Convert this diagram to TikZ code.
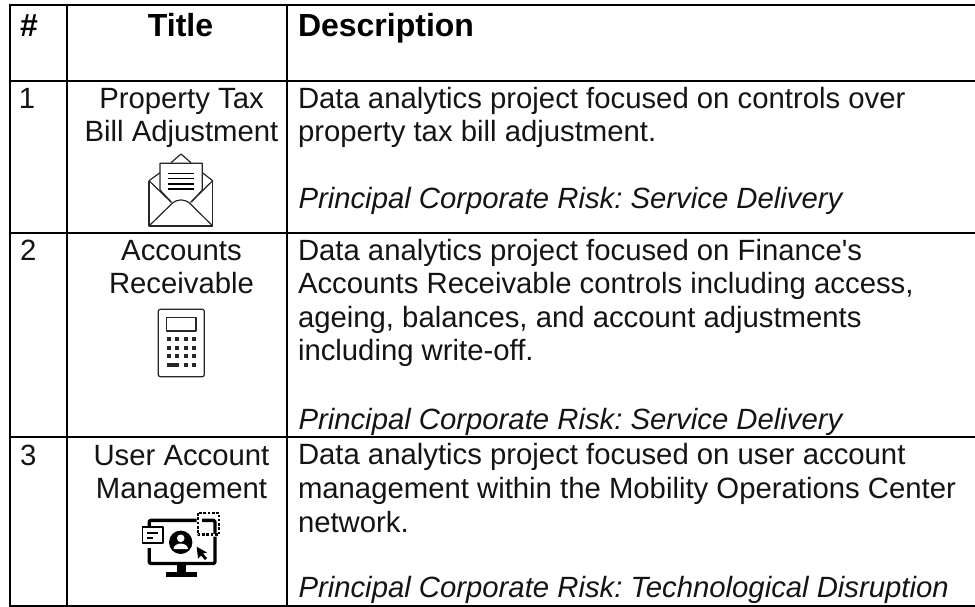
\documentclass[tikz,border=0pt]{standalone}
\usepackage{fontspec}
\setmainfont{Liberation Sans}
\newfontfamily\plainapos{Liberation Sans}
\tikzset{
  x=1pt,y=-1pt,
  grid/.style={line width=2pt,black},
  txt/.style={anchor=base west,inner sep=0pt,outer sep=0pt,font=\fontsize{29.3}{33}\selectfont,text=black!92},
  ctr/.style={anchor=base,inner sep=0pt,outer sep=0pt,font=\fontsize{29.3}{33}\selectfont,text=black!92},
  hd/.style={anchor=base,inner sep=0pt,outer sep=0pt,font=\fontsize{32}{36}\selectfont\bfseries,text=black},
  icon/.style={line width=1.2pt,black!85,line join=round},
}
\begin{document}
\frenchspacing
\begin{tikzpicture}
\useasboundingbox (0,0) rectangle (975,607);
\fill[white] (0,0) rectangle (975,607);
% grid
\draw[grid] (975,5) -- (9,5);
\draw[grid] (9,81) -- (975,81);
\draw[grid] (9,233) -- (975,233);
\draw[grid] (9,437) -- (975,437);
\draw[grid] (9,606.3) -- (975,606.3);
\draw[grid] (10,4) -- (10,607);
\draw[grid] (66.7,4) -- (66.7,607);
\draw[grid] (286.7,4) -- (286.7,607);
% header
\node[hd,anchor=base west] (h1) at (20,36.7) {\#};
\node[hd] (h2) at (180.5,36.7) {Title};
\node[hd,anchor=base west] (h3) at (298,36.7) {Description};
% row 1
\node[txt] (n1) at (19,108.3) {1};
\node[ctr] (t1a) at (181.5,108.3) {Property Tax};
\node[ctr] (t1b) at (181.5,141.7) {Bill Adjustment};
\node[txt] (d1a) at (298,108.3) {Data analytics project focused on controls over};
\node[txt] (d1b) at (298,141.7) {property tax bill adjustment.};
\node[txt] (d1c) at (298.5,208.5) {\itshape Principal Corporate Risk: Service Delivery};
% row 2
\node[txt] (n2) at (20,260) {2};
\node[ctr] (t2a) at (181.5,260) {Accounts};
\node[ctr] (t2b) at (181.5,293.5) {Receivable};
\node[txt] (d2a) at (298,260) {Data analytics project focused on Finance{\plainapos '}s};
\node[txt] (d2b) at (298,293.5) {Accounts Receivable controls including access,};
\node[txt] (d2c) at (298,327) {ageing, balances, and account adjustments};
\node[txt] (d2d) at (298,360.5) {including write-off.};
\node[txt] (d2e) at (298.5,429) {\itshape Principal Corporate Risk: Service Delivery};
% row 3
\node[txt] (n3) at (20,465) {3};
\node[ctr] (t3a) at (181.5,465) {User Account};
\node[ctr] (t3b) at (181.5,498.7) {Management};
\node[txt] (d3a) at (298,464.5) {Data analytics project focused on user account};
\node[txt] (d3b) at (298,498.5) {management within the Mobility Operations Center};
\node[txt] (d3c) at (298,532) {network.};
\node[txt] (d3d) at (298.5,597.5) {\itshape Principal Corporate Risk: Technological Disruption};
% envelope icon
\begin{scope}[icon]
\draw (149,180.7) -- (160,172.7);
\draw (202.3,172.7) -- (212.7,180.7);
\draw (171,162.7) -- (181,154) -- (191,162.7);
\draw (149,180.7) -- (149,226) -- (212.7,226) -- (212.7,180.7);
\draw (149,180.7) -- (171.5,202.5);
\draw (212.7,180.7) -- (190.5,202.5);
\draw (149,226) -- (171.5,204) .. controls (177,198.5) and (185,198.5) .. (190.5,204) -- (212.7,226);
\draw (171,201.7) -- (160,190) -- (160,163.3) -- (202.3,163.3) -- (202.3,190) -- (191.7,201.7);
\draw[line width=1.5pt,black] (167.7,173.3) -- (194,173.3) (167.7,178.6) -- (194,178.6) (167.7,183.8) -- (194,183.8) (167.7,189) -- (194,189);
% calculator
\draw[rounded corners=2pt] (158.3,309.3) rectangle (204.3,376.7);
\draw[line width=1.3pt] (166.3,317.3) rectangle (196,331);
\foreach \yy in {337,346,354}{\foreach \xx in {167,175.3,184,192.3}{\fill (\xx,\yy) rectangle +(4,4);}}
\fill (167,363) rectangle +(12.3,4);
\fill (184,363) rectangle +(4,4);
\fill (192.3,363) rectangle +(4,4);
% monitor
\begin{scope}[black]
\draw[line width=3.4pt,rounded corners=2pt] (149.2,526) |- (196.5,520.3);
\draw[line width=3.4pt,rounded corners=2pt] (149.2,548) -- (149.2,563.5) -- (215,563.5) -- (215,536.5);
\draw[line width=3.4pt,rounded corners=2pt] (202,520.3) -- (215,520.3) -- (215,534);
\fill (176.7,565) rectangle (186,572);
\fill (166,571.7) rectangle (196.7,576.7);
\draw[line width=1.9pt] (142.5,527.2) rectangle (163,543);
\draw[line width=1.8pt] (146.7,532.7) -- (158.3,532.7);
\draw[line width=1.8pt] (146.7,537.7) -- (153,537.7);
\fill (180.7,542.3) circle (11.7);
\fill[white] (180.7,538.3) circle (3.8);
\fill[white] (173.5,549) .. controls (174,541.8) and (187.5,541.8) .. (188,549) -- cycle;
\fill (196.7,546.7) -- (198,558.5) -- (201,555.5) -- (205,560) -- (207,558) -- (203,553.5) -- (207,552.5) -- cycle;
\draw[line width=2.6pt,dash pattern=on 2.6pt off 1.7pt] (197.9,513) rectangle (219,534.6);
\end{scope}
\end{scope}
\end{tikzpicture}
\end{document}
